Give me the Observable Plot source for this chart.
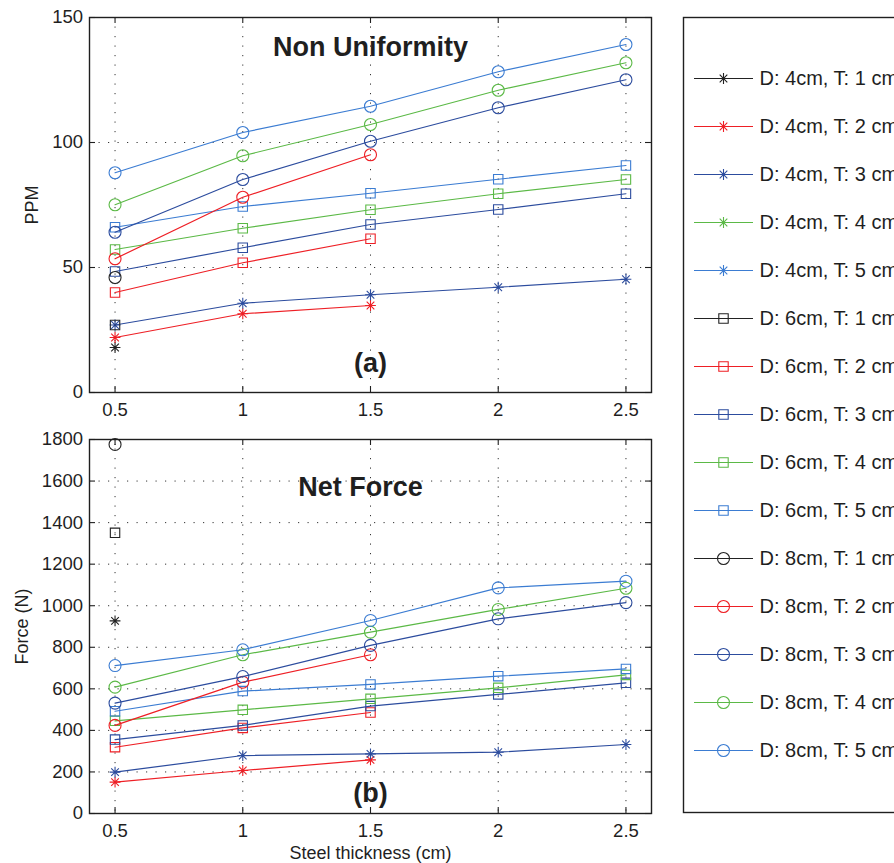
<!DOCTYPE html>
<html>
<head>
<meta charset="utf-8">
<script src="https://cdn.jsdelivr.net/npm/d3@7"></script>
<script src="https://cdn.jsdelivr.net/npm/@observablehq/plot@0.6"></script>
<style>
  html, body { margin: 0; padding: 0; background: #fff; overflow: hidden; }
  #chart { position: relative; width: 894px; height: 863px; font-family: "Liberation Sans", Arial, Helvetica, sans-serif; }
  #chart svg { position: absolute; max-width: none; }
</style>
</head>
<body>
<div id="chart"></div>
<script>
// Steel plate thickness (cm) on the shared x axis
const thickness = [0.5, 1, 1.5, 2, 2.5];
const diameterLabels = ["4cm", "6cm", "8cm"];
const heightLabels = ["1 cm", "2 cm", "3 cm", "4 cm", "5 cm"];
const ppmTicks = [0, 50, 100, 150];
const forceTicks = [0, 200, 400, 600, 800, 1000, 1200, 1400, 1600, 1800];

// Non uniformity (PPM); rows are magnet height T = 1..5 cm, columns follow `thickness`
const ppmD4 = [
  [18, null, null, null, null],
  [22, 31.5, 34.8, null, null],
  [27, 35.7, 39.1, 42.1, 45.3],
  [null, null, null, null, null],
  [null, null, null, null, null]
];
const ppmD6 = [
  [27, null, null, null, null],
  [40, 51.9, 61.5, null, null],
  [48.4, 57.9, 67.2, 73.2, 79.5],
  [57.2, 65.7, 73.1, 79.5, 85.2],
  [66.1, 74.4, 79.7, 85.3, 90.8]
];
const ppmD8 = [
  [46, null, null, null, null],
  [53.5, 78.1, 95.1, null, null],
  [64.1, 85.2, 100.5, 113.9, 125.1],
  [75.1, 94.7, 107.2, 120.9, 131.9],
  [87.9, 104, 114.5, 128.3, 139.2]
];

// Net force (N)
const forceD4 = [
  [927, null, null, null, null],
  [151, 207, 258, null, null],
  [199, 279, 287, 295, 332],
  [null, null, null, null, null],
  [null, null, null, null, null]
];
const forceD6 = [
  [1351, null, null, null, null],
  [319, 412, 486, null, null],
  [356, 424, 517, 573, 629],
  [446, 499, 552, 605, 667],
  [492, 589, 621, 661, 696]
];
const forceD8 = [
  [1776, null, null, null, null],
  [424, 632, 764, null, null],
  [531, 659, 809, 937, 1015],
  [608, 764, 873, 982, 1084],
  [712, 788, 929, 1086, 1118]
];

// One colour per magnet height, one marker per diameter
const heightColors = ["#222222", "#ee1f25", "#2c4c9e", "#5bb946", "#3b7cd2"];
const ink = "#1f1f1f";
const font = '"Liberation Sans", Arial, Helvetica, sans-serif';

const asterisk8 = {
  draw(ctx, size) {
    const r = Math.sqrt(size / Math.PI), d = r * Math.SQRT1_2;
    ctx.moveTo(-r, 0); ctx.lineTo(r, 0);
    ctx.moveTo(0, -r); ctx.lineTo(0, r);
    ctx.moveTo(-d, -d); ctx.lineTo(d, d);
    ctx.moveTo(-d, d); ctx.lineTo(d, -d);
  }
};
const openSquare = {
  draw(ctx, size) {
    const r = Math.sqrt(size / Math.PI);
    ctx.rect(-r, -r, 2 * r, 2 * r);
  }
};
const openCircle = {
  draw(ctx, size) {
    const r = Math.sqrt(size / Math.PI);
    ctx.moveTo(r, 0);
    ctx.arc(0, 0, r, 0, 2 * Math.PI);
  }
};
const diameterSymbols = [asterisk8, openSquare, openCircle];
const diameterRadius = [5.4, 4.7, 6];

function buildSeries(byDiameter) {
  const out = [];
  byDiameter.forEach((rows, i) => {
    rows.forEach((vals, j) => {
      const points = [];
      vals.forEach((v, k) => { if (v != null) points.push({x: thickness[k], y: v}); });
      out.push({
        label: `D: ${diameterLabels[i]}, T: ${heightLabels[j]}`,
        color: heightColors[j],
        symbol: diameterSymbols[i],
        r: diameterRadius[i],
        points
      });
    });
  });
  return out;
}

const W = 660, ML = 89, MR = 9;
const dotted = {stroke: "#2a2a2a", strokeOpacity: 0.95, strokeWidth: 1, strokeDasharray: "1.2,8.3"};

function panel({byDiameter, yDomain, yTicks, height, marginTop, marginBottom, notes}) {
  const plotH = height - marginTop - marginBottom;
  const plotW = W - ML - MR;
  const series = buildSeries(byDiameter);
  const marks = [
    Plot.gridX({ticks: thickness, ...dotted}),
    Plot.gridY({ticks: yTicks, ...dotted}),
    Plot.tickX(thickness, {x: d => d, insetTop: plotH - 6, stroke: ink, strokeWidth: 1.1}),
    Plot.tickX(thickness, {x: d => d, insetBottom: plotH - 6, stroke: ink, strokeWidth: 1.1}),
    Plot.tickY(yTicks, {y: d => d, insetRight: plotW - 6, stroke: ink, strokeWidth: 1.1}),
    Plot.tickY(yTicks, {y: d => d, insetLeft: plotW - 6, stroke: ink, strokeWidth: 1.1}),
    Plot.axisX({ticks: thickness, tickSize: 0, tickPadding: 10, tickFormat: d => String(d), fontSize: 18.5, fill: ink, label: null}),
    Plot.axisY({ticks: yTicks, tickSize: 0, tickPadding: 6.5, tickFormat: d => String(d), fontSize: 18.5, fill: ink, label: null})
  ];
  series.forEach(s => {
    marks.push(Plot.line(s.points, {x: "x", y: "y", stroke: s.color, strokeWidth: 1.2}));
    marks.push(Plot.dot(s.points, {x: "x", y: "y", symbol: s.symbol, r: s.r, stroke: s.color, fill: "none", strokeWidth: 1.1}));
  });
  marks.push(Plot.frame({stroke: ink, strokeWidth: 1.4}));
  notes.forEach(n => marks.push(Plot.text([n.text], {
    x: () => n.x, frameAnchor: n.anchor, lineAnchor: "bottom", textAnchor: "middle",
    dx: n.dx || 0, dy: n.dy, fontSize: n.size, fontWeight: n.weight || "normal", fill: ink
  })));
  return Plot.plot({
    width: W, height, marginLeft: ML, marginRight: MR, marginTop, marginBottom,
    x: {domain: [0.4, 2.6], axis: null},
    y: {domain: yDomain, axis: null},
    style: {fontFamily: font, fontSize: "18px", color: ink, background: "transparent"},
    marks
  });
}

function yLabel(text, dx) {
  return Plot.text([text], {frameAnchor: "left", rotate: -90, lineAnchor: "bottom", textAnchor: "middle", dx, fontSize: 18, fill: ink});
}

const topPanel = panel({
  byDiameter: [ppmD4, ppmD6, ppmD8],
  yDomain: [0, 150], yTicks: ppmTicks,
  height: 420, marginTop: 17, marginBottom: 28,
  notes: [
    {text: "Non Uniformity", x: 1.5, anchor: "top", dy: 38, size: 27, weight: "bold"},
    {text: "(a)", x: 1.5, anchor: "bottom", dy: -20.5, size: 27, weight: "bold"}
  ]
});
const bottomPanel = panel({
  byDiameter: [forceD4, forceD6, forceD8],
  yDomain: [0, 1800], yTicks: forceTicks,
  height: 443, marginTop: 19, marginBottom: 50,
  notes: [
    {text: "Net Force", x: 1.5, dx: -10, anchor: "top", dy: 56, size: 27, weight: "bold"},
    {text: "(b)", x: 1.5, anchor: "bottom", dy: -11.3, size: 27, weight: "bold"},
    {text: "Steel thickness (cm)", x: 1.5, anchor: "bottom", dy: 45.5, size: 18}
  ]
});

// Axis titles drawn as overlays on each panel's frame
const topLabel = Plot.plot({
  width: W, height: 420, marginLeft: ML, marginRight: MR, marginTop: 17, marginBottom: 28,
  x: {domain: [0, 1], axis: null}, y: {domain: [0, 1], axis: null},
  style: {fontFamily: font, background: "transparent"},
  marks: [yLabel("PPM", -52)]
});
const bottomLabel = Plot.plot({
  width: W, height: 443, marginLeft: ML, marginRight: MR, marginTop: 19, marginBottom: 50,
  x: {domain: [0, 1], axis: null}, y: {domain: [0, 1], axis: null},
  style: {fontFamily: font, background: "transparent"},
  marks: [yLabel("Force (N)", -61.5)]
});

// Legend: one row per series, line + marker + label
const legendSeries = buildSeries([ppmD4, ppmD6, ppmD8]);
const legendMarks = [Plot.frame({stroke: ink, strokeWidth: 1.4})];
legendSeries.forEach(s => {
  legendMarks.push(Plot.ruleY([s.label], {y: d => d, x1: 24, x2: 83, stroke: s.color, strokeWidth: 1.2}));
  legendMarks.push(Plot.dot([s.label], {y: d => d, x: 53, symbol: s.symbol, r: s.r, stroke: s.color, fill: "none", strokeWidth: 1.1}));
});
legendMarks.push(Plot.text(legendSeries, {y: "label", x: 89, text: "label", textAnchor: "start", fontSize: 20, fill: ink}));
const legend = Plot.plot({
  width: 224, height: 863, marginLeft: 13, marginRight: -30, marginTop: 17, marginBottom: 51,
  x: {type: "identity", axis: null},
  y: {type: "point", domain: legendSeries.map(s => s.label), range: [47.7, 780], axis: null},
  style: {fontFamily: font, background: "transparent", overflow: "hidden"},
  marks: legendMarks
});

const chart = document.getElementById("chart");
[[topPanel, 0, 0], [topLabel, 0, 0], [bottomPanel, 0, 420], [bottomLabel, 0, 420], [legend, 670, 0]].forEach(([el, left, top]) => {
  el.style.left = left + "px";
  el.style.top = top + "px";
  chart.appendChild(el);
});
</script>
</body>
</html>
